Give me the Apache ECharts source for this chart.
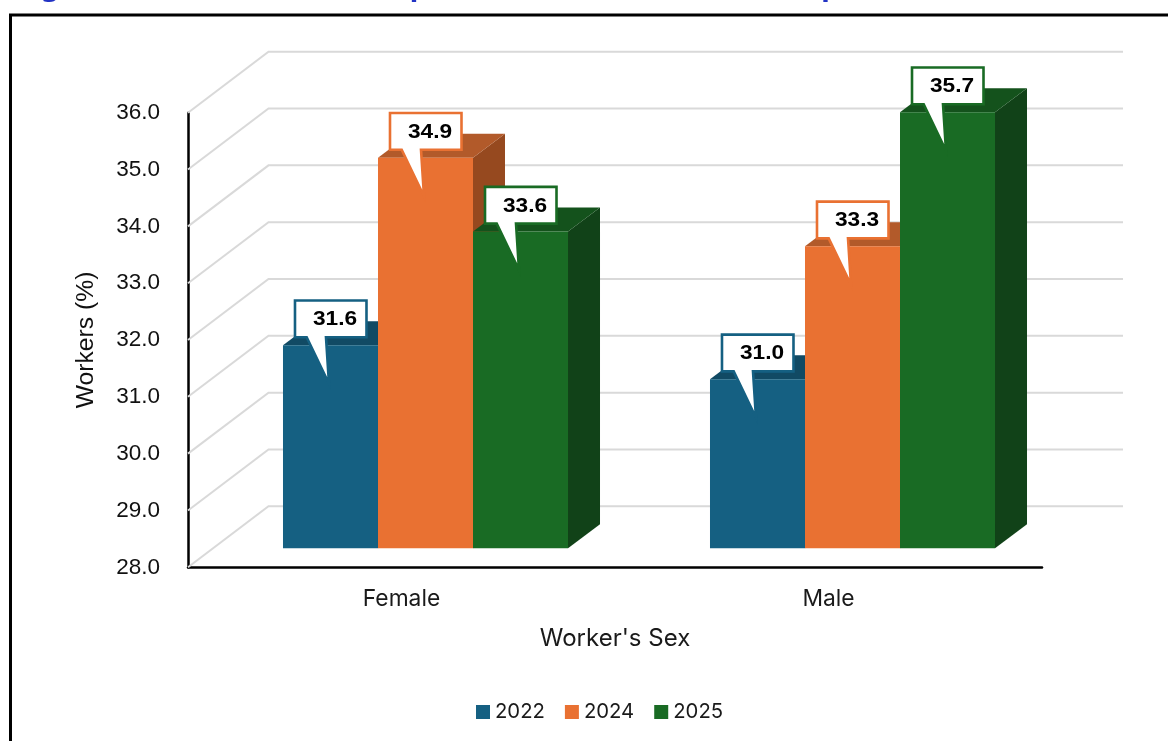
<!DOCTYPE html>
<html>
<head>
<meta charset="utf-8">
<style>html,body{margin:0;padding:0;background:#fff}#c{width:1168px;height:741px}</style>
<script src="https://cdn.jsdelivr.net/npm/echarts@6/dist/echarts.min.js"></script>
</head>
<body>
<div id="c"></div>
<script>
const categories = ['Female', 'Male'];
const years = ['2022', '2024', '2025'];
const values2022 = [31.6, 31.0];
const values2024 = [34.9, 33.34];
const values2025 = [33.6, 35.7];
const yTicks = [28, 29, 30, 31, 32, 33, 34, 35, 36];
const titleText = 'Figure 1: Formal sector comparison across the reference period (Area of work)';

const faceColors = ['#156082', '#E97132', '#196B24'];
const topColors = ['#114A64', '#B25A2A', '#14521C'];
const sideColors = ['#0E3F55', '#96491F', '#114218'];

const SANS = '"Liberation Sans", Arial, sans-serif';
const APTOS = 'Inter, "Noto Sans", sans-serif';

function gridItem(params, api) {
  const y = api.coord([0, api.value(1)])[1];
  const cs = params.coordSys;
  return {
    type: 'polyline',
    silent: true,
    shape: { points: [[cs.x, y], [cs.x + 80.5, y - 61], [cs.x + cs.width + 81, y - 61]] },
    style: { stroke: '#D9D9D9', lineWidth: 2, fill: null }
  };
}

function barRenderer(seriesIndex) {
  return function (params, api) {
    const cat = api.value(0), v = api.value(1);
    const band = api.size([1, 0])[0];
    const w = band * 0.2225;
    const c = api.coord([cat, v]);
    const base = api.coord([cat, 28]);
    const x0 = c[0] + 24 + (seriesIndex - 1.5) * w;
    const x1 = x0 + w;
    const yT = c[1] - 17.5;
    const yB = base[1] - 19;
    const dx = 32, dy = -24;
    const L = x0, T = yT;
    const callout = [
      [L + 12, T - 44.7], [L + 83.5, T - 44.7], [L + 83.5, T - 8],
      [L + 43, T - 8], [L + 46, T + 38.5], [L + 23.7, T - 8], [L + 12, T - 8]
    ];
    return {
      type: 'group',
      children: [
        { type: 'polygon', shape: { points: [[x1, yT], [x1 + dx, yT + dy], [x1 + dx, yB + dy], [x1, yB]] },
          style: { fill: sideColors[seriesIndex] } },
        { type: 'polygon', shape: { points: [[x0, yT], [x0 + dx, yT + dy], [x1 + dx, yT + dy], [x1, yT]] },
          style: { fill: topColors[seriesIndex] } },
        { type: 'rect', shape: { x: x0, y: yT, width: w, height: yB - yT },
          style: { fill: faceColors[seriesIndex] } },
        { type: 'polygon', z2: 100, shape: { points: callout },
          style: { fill: '#fff', stroke: faceColors[seriesIndex], lineWidth: 2.6, lineJoin: 'miter', miterLimit: 12 } },
        { type: 'text', z2: 101, x: L + 52, y: T - 25.7, scaleX: 1.08,
          style: { text: v.toFixed(1), x: 0, y: 0, align: 'center', verticalAlign: 'middle',
                   font: 'bold 21px ' + SANS, fill: '#000' } }
      ]
    };
  };
}

function barSeries(i, vals) {
  return {
    type: 'custom', name: years[i], coordinateSystem: 'cartesian2d', clip: false,
    renderItem: barRenderer(i),
    itemStyle: { color: faceColors[i] },
    encode: { x: 0, y: 1 },
    data: vals.map((v, k) => [k, v])
  };
}

const chart = echarts.init(document.getElementById('c'), null, { renderer: 'canvas' });
chart.setOption({
  animation: false,
  backgroundColor: '#fff',
  grid: { left: 188, right: 126, top: 112.7, bottom: 173.7, containLabel: false },
  graphic: [
    { type: 'rect', silent: true, shape: { x: 10.5, y: 15, width: 1300, height: 900 },
      style: { fill: null, stroke: '#000', lineWidth: 3 } },
    { type: 'text', silent: true, x: 17, y: -28,
      style: { text: titleText, font: 'bold 28.5px "Noto Sans", sans-serif', fill: '#2233C4' } }
  ],
  legend: {
    left: 471, top: 697, icon: 'rect', itemWidth: 14, itemHeight: 14, itemGap: 20,
    data: years, selectedMode: false,
    textStyle: { fontFamily: APTOS, fontSize: 20.3, color: '#1a1a1a' }
  },
  xAxis: {
    type: 'category', data: categories,
    axisLine: { lineStyle: { color: '#000', width: 2.5 } },
    axisTick: { show: false },
    axisLabel: { fontFamily: APTOS, fontSize: 22.8, color: '#1a1a1a', margin: 20 },
    name: "Worker's Sex", nameLocation: 'middle', nameGap: 59,
    nameTextStyle: { fontFamily: APTOS, fontSize: 24, color: '#1a1a1a' }
  },
  yAxis: {
    type: 'value', min: 28, max: 36, interval: 1,
    axisLine: { show: true, lineStyle: { color: '#000', width: 2.5 } },
    axisTick: { show: false }, splitLine: { show: false },
    axisLabel: { fontFamily: SANS, fontSize: 22.5, color: '#111', margin: 28, padding: [6, 0, 0, 0],
                 formatter: v => v.toFixed(1) },
    name: 'Workers (%)', nameLocation: 'middle', nameGap: 89, nameRotate: 90,
    nameTextStyle: { fontFamily: SANS, fontSize: 24.7, color: '#111' }
  },
  series: [
    { type: 'custom', name: 'gridlines', coordinateSystem: 'cartesian2d', clip: false, silent: true,
      renderItem: gridItem, encode: { x: 0, y: 1 }, data: yTicks.map(t => [0, t]) },
    barSeries(0, values2022),
    barSeries(1, values2024),
    barSeries(2, values2025)
  ]
});
</script>
</body>
</html>
